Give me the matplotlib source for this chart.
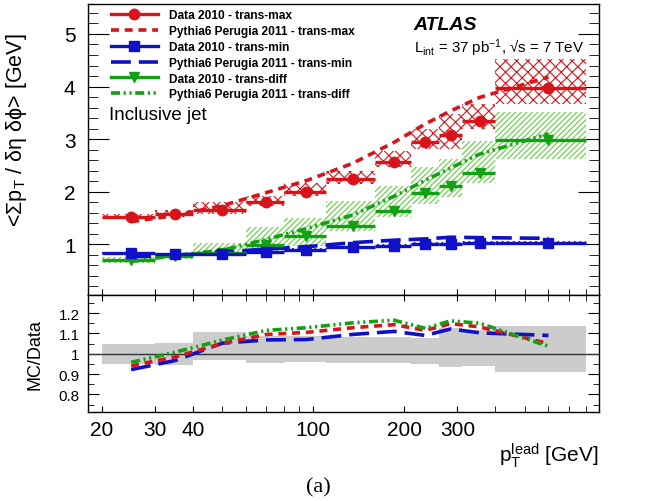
import numpy as np
import matplotlib
matplotlib.use("Agg")
import matplotlib.pyplot as plt
from matplotlib.lines import Line2D

plt.rcParams['font.family'] = ['Liberation Sans', 'DejaVu Sans']
plt.rcParams['mathtext.fontset'] = 'custom'
plt.rcParams['mathtext.rm'] = 'Liberation Sans'
plt.rcParams['mathtext.it'] = 'Liberation Sans:italic'
plt.rcParams['hatch.linewidth'] = 0.8

# bins in leading jet pT [GeV]
edges = [20, 30, 40, 60, 80, 110, 160, 210, 260, 310, 400, 800]
centers = [25, 35, 50, 70, 95, 135, 185, 235, 285, 355, 600]

# data 2010
dmax = [1.52, 1.57, 1.65, 1.81, 2.00, 2.25, 2.57, 2.95, 3.08, 3.35, 3.98]
dmax_lo = [1.48, 1.51, 1.57, 1.73, 1.92, 2.14, 2.46, 2.81, 2.81, 3.19, 3.67]
dmax_hi = [1.58, 1.65, 1.81, 1.92, 2.17, 2.40, 2.78, 3.19, 3.48, 3.67, 4.52]

dmin = [0.83, 0.81, 0.81, 0.85, 0.89, 0.94, 0.97, 1.01, 1.01, 1.02, 1.02]
dmin_lo = [0.80, 0.78, 0.78, 0.82, 0.86, 0.91, 0.94, 0.98, 0.98, 0.98, 0.98]
dmin_hi = [0.86, 0.84, 0.84, 0.88, 0.92, 0.97, 1.00, 1.04, 1.04, 1.06, 1.06]

ddiff = [0.70, 0.78, 0.83, 0.98, 1.15, 1.35, 1.64, 1.97, 2.11, 2.36, 2.99]
ddiff_lo = [0.65, 0.71, 0.79, 0.84, 0.97, 1.25, 1.51, 1.76, 1.89, 2.17, 2.62]
ddiff_hi = [0.75, 0.84, 1.03, 1.32, 1.50, 1.82, 2.11, 2.46, 2.62, 2.97, 3.51]

# Pythia6 Perugia 2011 / data
r_max = [0.940, 0.985, 1.050, 1.095, 1.105, 1.128, 1.143, 1.115, 1.148, 1.132, 1.050]
r_min = [0.922, 0.967, 1.052, 1.068, 1.070, 1.095, 1.110, 1.090, 1.122, 1.103, 1.090]
r_diff = [0.958, 1.008, 1.067, 1.115, 1.128, 1.152, 1.165, 1.125, 1.162, 1.150, 1.037]

# total data uncertainty band (ratio panel)
band_lo = [0.952, 0.945, 0.967, 0.957, 0.958, 0.956, 0.956, 0.948, 0.937, 0.941, 0.910]
band_hi = [1.047, 1.055, 1.108, 1.088, 1.085, 1.080, 1.084, 1.076, 1.125, 1.117, 1.137]

red = '#d8141a'
blue = '#1010c8'
green = '#14a014'
lgreen = '#5ed040'

edges = np.array(edges)
centers = np.array(centers)
xl = centers - edges[:-1]
xh = edges[1:] - centers
widths = edges[1:] - edges[:-1]

ls_max = (0, (2.2, 1.6))
ls_min = (0, (5.5, 2.2))
ls_diff = (0, (2.5, 1.0, 0.6, 1.0, 0.6, 1.0))

fig = plt.figure(figsize=(6.49, 5.02), dpi=100)
ax = fig.add_axes([0.1356, 0.410, 0.787, 0.580])
ax2 = fig.add_axes([0.1356, 0.177, 0.787, 0.233])

series = [
    (dmax, dmax_lo, dmax_hi, r_max, red, red, 'xxx', 'o', ls_max),
    (ddiff, ddiff_lo, ddiff_hi, r_diff, green, lgreen, '//////', 'v', ls_diff),
    (dmin, dmin_lo, dmin_hi, r_min, blue, blue, '\\\\\\\\\\\\', 's', ls_min),
]

for d, lo, hi, r, c, hc, hatch, mk, ls in series:
    d = np.array(d)
    lo = np.array(lo)
    hi = np.array(hi)
    ax.bar(edges[:-1], hi - lo, width=widths, bottom=lo, align='edge',
           fill=False, hatch=hatch, edgecolor=hc, lw=0, zorder=1)
    ax.plot(centers, d * np.array(r), color=c, ls=ls, lw=2.6, zorder=3)
    ax.errorbar(centers, d, xerr=[xl, xh], fmt=mk, color=c, ms=7.5,
                elinewidth=2.4, capsize=0, zorder=4)

ax.set_ylim(0.03, 5.57)
ax.set_yticks([1, 2, 3, 4, 5])
ax.set_yticks(np.arange(0.2, 5.6, 0.2), minor=True)
ax.tick_params(axis='y', which='both', direction='in', right=True, labelsize=15, pad=9)
ax.tick_params(axis='y', which='major', length=15)
ax.tick_params(axis='y', which='minor', length=7)

xt = [20, 30, 40, 100, 200, 300]
xm = [50, 60, 70, 80, 90, 400, 500, 600, 700, 800]
for a in (ax, ax2):
    a.set_xscale('log')
    a.set_xlim(18, 880)
    a.set_xticks(xt)
    a.set_xticks(xm, minor=True)
    a.tick_params(axis='x', which='both', direction='in', length=4)
ax.set_xticklabels([])
ax.tick_params(axis='x', which='minor', labelbottom=False)
ax2.set_xticklabels(['20', '30', '40', '100', '200', '300'])
ax2.tick_params(axis='x', which='minor', labelbottom=False)
ax2.tick_params(axis='x', which='both', top=True, labelsize=15, pad=6)

ax.set_ylabel(r'<$\mathregular{\Sigma p_T}$ / $\mathregular{\delta\eta\ \delta\phi}$> [GeV]',
              fontsize=15.5)
ax.yaxis.set_label_coords(-0.115, 0.57)

handles = [
    Line2D([], [], color=red, marker='o', lw=2.4, ms=7.5),
    Line2D([], [], color=red, ls=ls_max, lw=2.6),
    Line2D([], [], color=blue, marker='s', lw=2.4, ms=7.5),
    Line2D([], [], color=blue, ls=ls_min, lw=2.6),
    Line2D([], [], color=green, marker='v', lw=2.4, ms=7.5),
    Line2D([], [], color=green, ls=ls_diff, lw=2.6),
]
labels = ['Data 2010 - trans-max', 'Pythia6 Perugia 2011 - trans-max',
          'Data 2010 - trans-min', 'Pythia6 Perugia 2011 - trans-min',
          'Data 2010 - trans-diff', 'Pythia6 Perugia 2011 - trans-diff']
ax.legend(handles, labels, loc='upper left', bbox_to_anchor=(0.045, 0.982),
          frameon=False, prop={'weight': 'bold', 'size': 8.6},
          handlelength=3.9, handletextpad=0.95, labelspacing=0.32,
          borderpad=0, borderaxespad=0)

ax.text(0.638, 0.930, 'ATLAS', transform=ax.transAxes, fontsize=14,
        fontweight='bold', style='italic', va='center')
ax.text(0.638, 0.850,
        r'L$_{\mathregular{int}}$ = 37 pb$^{\mathregular{-1}}$, ' + '\u221as = 7 TeV',
        transform=ax.transAxes, fontsize=10.8, va='center')
ax.text(0.042, 0.62, 'Inclusive jet', transform=ax.transAxes, fontsize=13.5, va='center')

# ratio panel
ax2.bar(edges[:-1], np.array(band_hi) - np.array(band_lo), width=widths,
        bottom=band_lo, align='edge', color='#cccccc', lw=0, zorder=1)
ax2.axhline(1.0, color='#333333', lw=1.0, zorder=2)
ax2.plot(centers, r_max, color=red, ls=ls_max, lw=2.6, zorder=4)
ax2.plot(centers, r_diff, color=green, ls=ls_diff, lw=2.6, zorder=5)
ax2.plot(centers, r_min, color=blue, ls=ls_min, lw=2.6, zorder=3)
ax2.set_ylim(0.713, 1.288)
ax2.set_yticks([0.8, 0.9, 1.0, 1.1, 1.2])
ax2.set_yticklabels(['0.8', '0.9', '1', '1.1', '1.2'])
ax2.set_yticks(np.arange(0.75, 1.29, 0.05), minor=True)
ax2.tick_params(axis='y', which='both', direction='in', right=True, labelsize=11, pad=6)
ax2.tick_params(axis='y', which='major', length=8)
ax2.tick_params(axis='y', which='minor', length=4)
ax2.set_ylabel('MC/Data', fontsize=13)
ax2.yaxis.set_label_coords(-0.088, 0.5)

for a in (ax, ax2):
    for s in a.spines.values():
        s.set_linewidth(1.0)

fig.text(0.923, 0.093, r'p$_{\mathregular{T}}^{\mathregular{lead}}$ [GeV]', fontsize=15,
         ha='right', va='center')
fig.text(0.49, 0.028, '(a)', fontsize=16, ha='center', va='center',
         family='Liberation Serif')

fig.savefig('out.png', dpi=100)
